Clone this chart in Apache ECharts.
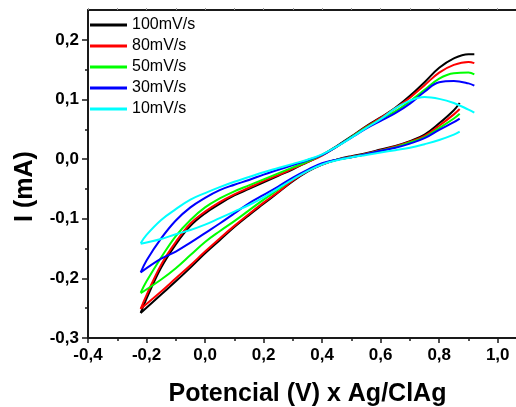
<!DOCTYPE html>
<html>
<head>
<meta charset="utf-8">
<script src="https://cdn.jsdelivr.net/npm/echarts@6/dist/echarts.min.js"></script>
<style>
html,body{margin:0;padding:0;background:#fff;}
#chart{width:516px;height:407px;}
</style>
</head>
<body>
<div id="chart"></div>
<script>
// Scan rates (legend)
const seriesNames = ['100mV/s', '80mV/s', '50mV/s', '30mV/s', '10mV/s'];
const seriesColors = ['#000000', '#ff0000', '#00ff00', '#0000ff', '#00ffff'];

// Potential grid (V) for the forward (upper) branch and the reverse (lower) branch
const xUpper = [-0.22, -0.2, -0.15, -0.1, -0.05, 0, 0.05, 0.1, 0.15, 0.2, 0.25, 0.3, 0.35, 0.4, 0.45, 0.5, 0.55, 0.6, 0.65, 0.7, 0.75, 0.8, 0.85, 0.9, 0.92];
const xLower = [-0.22, -0.15, -0.1, -0.05, 0, 0.05, 0.1, 0.15, 0.2, 0.25, 0.3, 0.35, 0.4, 0.45, 0.5, 0.55, 0.6, 0.65, 0.7, 0.75, 0.8, 0.85, 0.87];

// Current (mA), upper branch
const up100 = [-0.258, -0.234, -0.182, -0.143, -0.112, -0.091, -0.075, -0.061, -0.050, -0.039, -0.028, -0.017, -0.005, 0.007, 0.022, 0.038, 0.055, 0.070, 0.086, 0.106, 0.129, 0.153, 0.169, 0.176, 0.176];
const up80  = [-0.251, -0.228, -0.177, -0.139, -0.108, -0.088, -0.072, -0.059, -0.048, -0.037, -0.027, -0.016, -0.005, 0.006, 0.021, 0.037, 0.054, 0.069, 0.085, 0.103, 0.124, 0.145, 0.158, 0.163, 0.161];
const up50  = [-0.224, -0.205, -0.165, -0.129, -0.102, -0.081, -0.066, -0.054, -0.044, -0.034, -0.024, -0.014, -0.004, 0.007, 0.021, 0.037, 0.053, 0.067, 0.080, 0.097, 0.116, 0.135, 0.144, 0.145, 0.142];
const up30  = [-0.190, -0.170, -0.133, -0.103, -0.081, -0.065, -0.052, -0.043, -0.035, -0.026, -0.018, -0.010, -0.002, 0.007, 0.021, 0.036, 0.051, 0.064, 0.077, 0.093, 0.113, 0.129, 0.131, 0.127, 0.123];
const up10  = [-0.141, -0.127, -0.102, -0.084, -0.068, -0.057, -0.047, -0.038, -0.030, -0.022, -0.015, -0.008, -0.001, 0.008, 0.021, 0.036, 0.052, 0.067, 0.085, 0.098, 0.104, 0.101, 0.094, 0.083, 0.078];

// Current (mA), lower branch
const lo100 = [-0.258, -0.227, -0.205, -0.182, -0.158, -0.136, -0.114, -0.094, -0.075, -0.056, -0.037, -0.021, -0.009, -0.001, 0.005, 0.010, 0.016, 0.022, 0.030, 0.041, 0.060, 0.082, 0.094];
const lo80  = [-0.251, -0.222, -0.200, -0.178, -0.155, -0.133, -0.112, -0.092, -0.073, -0.055, -0.036, -0.020, -0.009, -0.001, 0.004, 0.009, 0.015, 0.021, 0.029, 0.039, 0.056, 0.075, 0.084];
const lo50  = [-0.225, -0.202, -0.183, -0.161, -0.139, -0.121, -0.104, -0.086, -0.068, -0.051, -0.033, -0.019, -0.008, -0.001, 0.003, 0.008, 0.014, 0.020, 0.028, 0.037, 0.052, 0.068, 0.076];
const lo30  = [-0.190, -0.167, -0.155, -0.140, -0.124, -0.108, -0.091, -0.074, -0.060, -0.046, -0.031, -0.018, -0.007, -0.001, 0.003, 0.008, 0.014, 0.019, 0.026, 0.035, 0.049, 0.062, 0.068];
const lo10  = [-0.142, -0.134, -0.126, -0.119, -0.110, -0.099, -0.088, -0.077, -0.064, -0.049, -0.034, -0.020, -0.009, -0.002, 0.003, 0.007, 0.011, 0.015, 0.019, 0.025, 0.032, 0.041, 0.046];

const upperSets = [up100, up80, up50, up30, up10];
const lowerSets = [lo100, lo80, lo50, lo30, lo10];

// Axis ticks
const yTicks = [-0.3, -0.2, -0.1, 0.0, 0.1, 0.2];
const xTicks = [-0.4, -0.2, 0.0, 0.2, 0.4, 0.6, 0.8, 1.0];

const FONT = "'Liberation Sans', Arial, sans-serif";
const fmt = v => (Math.round(v * 10) / 10 + 0).toFixed(1).replace('.', ',');
const pairs = (xs, ys) => xs.map((x, i) => [x, ys[i]]);

const series = [];
seriesNames.forEach((name, k) => {
  [pairs(xLower, lowerSets[k]), pairs(xUpper, upperSets[k])].forEach(d => {
    series.push({
      name: name,
      type: 'line',
      data: d,
      smooth: 0.4,
      symbol: 'none',
      clip: false,
      lineStyle: { color: seriesColors[k], width: 2 },
      itemStyle: { color: seriesColors[k] },
      z: 2 + k
    });
  });
});

const chart = echarts.init(document.getElementById('chart'), null, { renderer: 'canvas' });
chart.setOption({
  animation: false,
  backgroundColor: '#ffffff',
  grid: { left: 88, top: 10, right: -11, bottom: 69, containLabel: false, outerBoundsMode: 'none' },
  legend: {
    data: seriesNames.map(n => ({ name: n, icon: 'rect' })),
    orient: 'vertical',
    left: 90,
    top: 17,
    padding: 0,
    itemGap: 5,
    itemWidth: 37,
    itemHeight: 3,
    textStyle: { fontFamily: FONT, fontSize: 16, color: '#000', lineHeight: 16 }
  },
  xAxis: [{
    type: 'value',
    min: -0.4, max: 1.1, interval: 0.2,
    name: 'Potencial (V) x Ag/ClAg',
    nameLocation: 'middle',
    nameGap: 44,
    nameTextStyle: { fontFamily: FONT, fontSize: 25, fontWeight: 'bold', color: '#000' },
    axisLine: { onZero: false, lineStyle: { color: '#1a1a1a', width: 2 } },
    axisTick: { show: true, length: 5, lineStyle: { color: '#1a1a1a', width: 1.5 }, customValues: xTicks },
    minorTick: { show: true, splitNumber: 2, length: 3, lineStyle: { color: '#1a1a1a', width: 1.5 } },
    axisLabel: { customValues: xTicks, formatter: fmt, margin: 9, fontFamily: FONT, fontSize: 17, fontWeight: 'bold', color: '#000' },
    splitLine: { show: false }
  }, {
    type: 'value',
    position: 'top',
    min: -0.4, max: 1.1, interval: 0.1,
    axisLine: { onZero: false, lineStyle: { color: '#1a1a1a', width: 2 } },
    axisTick: { show: true, length: 2, lineStyle: { color: '#999', width: 1 } },
    axisLabel: { show: false },
    splitLine: { show: false }
  }],
  yAxis: [{
    type: 'value',
    min: -0.3, max: 0.25, interval: 0.1,
    name: 'I (mA)',
    nameLocation: 'middle',
    nameRotate: 90,
    nameGap: 50,
    nameTextStyle: { fontFamily: FONT, fontSize: 25, fontWeight: 'bold', color: '#000', padding: [0, 25, 0, 0] },
    axisLine: { onZero: false, lineStyle: { color: '#1a1a1a', width: 2 } },
    axisTick: { show: true, length: 6, lineStyle: { color: '#1a1a1a', width: 1.5 }, customValues: yTicks },
    minorTick: { show: true, splitNumber: 2, length: 3, lineStyle: { color: '#1a1a1a', width: 1.5 } },
    axisLabel: { customValues: yTicks, formatter: fmt, margin: 9, fontFamily: FONT, fontSize: 17, fontWeight: 'bold', color: '#000' },
    splitLine: { show: false }
  }],
  series: series
});
</script>
</body>
</html>
